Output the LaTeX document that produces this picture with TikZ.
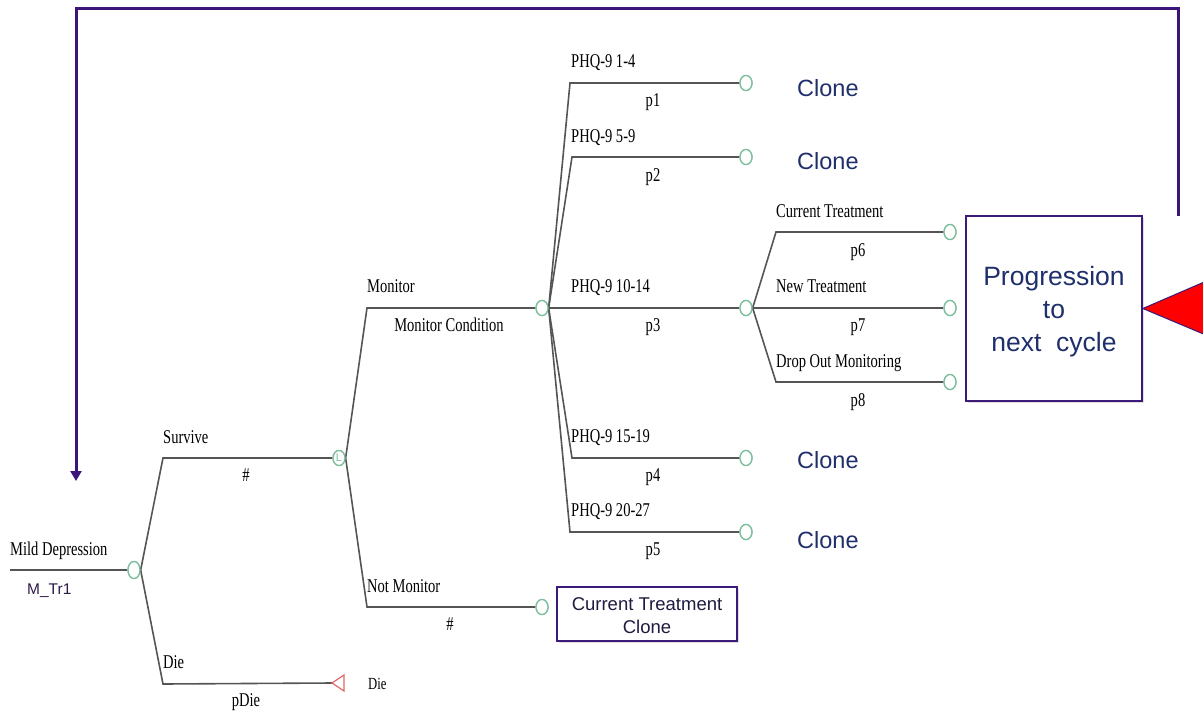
\documentclass[tikz,border=0pt]{standalone}
\usepackage{fontspec}
\setmainfont{Liberation Serif}
\setsansfont{Liberation Sans}
\newfontfamily\treefont[FakeStretch=0.745]{Liberation Serif}
\usetikzlibrary{shapes.geometric,arrows.meta,shadows}

\definecolor{treeline}{HTML}{555555}
\definecolor{chancegreen}{HTML}{7DBE9C}
\definecolor{navytext}{HTML}{1F2F6B}
\definecolor{boxpurple}{HTML}{3C1A7A}
\definecolor{loopcol}{HTML}{3D1578}
\definecolor{termred}{HTML}{E06666}
\definecolor{darktext}{HTML}{1E1B3F}
\definecolor{mtrtext}{HTML}{2E1A47}

\begin{document}
\begin{tikzpicture}[x=1pt,y=-1pt,
  branch/.style={draw=treeline,line width=1.6pt},
  chance/.style={ellipse,draw=chancegreen,line width=1.3pt,minimum width=12pt,minimum height=15pt,inner sep=0pt,fill=white},
  lab/.style={font=\treefont\fontsize{19.5}{20}\selectfont,inner sep=0pt,anchor=base west,text=black},
  prob/.style={font=\treefont\fontsize{19.5}{20}\selectfont,inner sep=0pt,anchor=base,text=black},
  clonelab/.style={font=\sffamily\fontsize{23.5}{25}\selectfont,text=navytext,inner sep=0pt,anchor=west},
  outbox/.style={draw=boxpurple,line width=1.6pt,fill=white,align=center,inner sep=0pt,
    drop shadow={shadow xshift=2pt,shadow yshift=-2pt,opacity=0.25}},
  looparrow/.style={draw=loopcol,line width=3pt,-{Triangle[length=10pt,width=11pt]}}
]
\useasboundingbox (0,0) rectangle (1203,713);

% ---------- nodes ----------
\coordinate (rootin) at (10,570);
\node[chance,minimum height=17pt] (root) at (134,570) {};
\node[chance,font=\sffamily\fontsize{11}{11}\selectfont,text=chancegreen] (mk) at (339,458) {L};
\coordinate (die) at (332,683);
\node[chance] (mon) at (542,308) {};
\node[chance] (notmon) at (542,607) {};
\node[chance] (q1) at (746,83) {};
\node[chance] (q2) at (746,157) {};
\node[chance] (q3) at (746,308) {};
\node[chance] (q4) at (746,458) {};
\node[chance] (q5) at (746,532) {};
\node[chance] (t1) at (950,232) {};
\node[chance] (t2) at (950,308) {};
\node[chance] (t3) at (950,382) {};

% ---------- branches ----------
\draw[branch] (rootin) -- (root.west);
\draw[branch] (root.east) -- (163,458) -- (mk.west);
\draw[branch] (root.east) -- (163,684) -- (die);
\draw[termred,line width=1.2pt] (die) -- (344,675) -- (344,691) -- cycle;

\draw[branch] (mk.east) -- (367,308) -- (mon.west);
\draw[branch] (mk.east) -- (367,607) -- (notmon.west);

\draw[branch] (mon.east) -- (570,83) -- (q1.west);
\draw[branch] (mon.east) -- (572,157) -- (q2.west);
\draw[branch] (mon.east) -- (q3.west);
\draw[branch] (mon.east) -- (572,458) -- (q4.west);
\draw[branch] (mon.east) -- (570,532) -- (q5.west);

\draw[branch] (q3.east) -- (776,232) -- (t1.west);
\draw[branch] (q3.east) -- (t2.west);
\draw[branch] (q3.east) -- (776,382) -- (t3.west);

% redraw nodes on top of lines
\node[chance,minimum height=17pt] at (root) {};
\node[chance,font=\sffamily\fontsize{11}{11}\selectfont,text=chancegreen] at (mk) {L};
\foreach \n in {mon,notmon,q1,q2,q3,q4,q5,t1,t2,t3} \node[chance] at (\n) {};

% ---------- labels ----------
\node[lab] (l0) at (10,555) {Mild Depression};
\node[font=\sffamily\fontsize{15.5}{16}\selectfont,text=mtrtext,inner sep=0pt,anchor=base west] (l0b) at (27,594) {M\_Tr1};
\node[lab] (l1) at (163,443) {Survive};
\node[prob] (l1b) at (246,481) {\#};
\node[lab] (l2) at (163,668) {Die};
\node[prob] (l2b) at (246,706) {pDie};
\node[font=\treefont\fontsize{17}{17}\selectfont,inner sep=0pt,anchor=base west] (l2c) at (368,689) {Die};

\node[lab] (l3) at (367,292) {Monitor};
\node[prob] (l3b) at (449,331) {Monitor Condition};
\node[lab] (l4) at (367,592) {Not Monitor};
\node[prob] (l4b) at (450,630) {\#};

\node[lab] (lq1) at (571,67) {PHQ-9 1-4};
\node[prob] (lq1b) at (653,106) {p1};
\node[lab] (lq2) at (571,142) {PHQ-9 5-9};
\node[prob] (lq2b) at (653,181) {p2};
\node[lab] (lq3) at (571,292) {PHQ-9 10-14};
\node[prob] (lq3b) at (653,331) {p3};
\node[lab] (lq4) at (571,442) {PHQ-9 15-19};
\node[prob] (lq4b) at (653,481) {p4};
\node[lab] (lq5) at (571,516) {PHQ-9 20-27};
\node[prob] (lq5b) at (653,555) {p5};

\node[lab] (lt1) at (776,217) {Current Treatment};
\node[prob] (lt1b) at (858,256) {p6};
\node[lab] (lt2) at (776,292) {New Treatment};
\node[prob] (lt2b) at (858,331) {p7};
\node[lab] (lt3) at (776,367) {Drop Out Monitoring};
\node[prob] (lt3b) at (858,406) {p8};

\node[clonelab] (c1) at (797,88) {Clone};
\node[clonelab] (c2) at (797,161) {Clone};
\node[clonelab] (c4) at (797,460) {Clone};
\node[clonelab] (c5) at (797,540) {Clone};

% ---------- boxes ----------
\node[outbox,minimum width=180pt,minimum height=54pt,
  font=\sffamily\fontsize{18.5}{23}\selectfont,text=darktext] (ctc) at (647,614) {\rule{0pt}{17pt}Current Treatment\\Clone};
\node[outbox,minimum width=176pt,minimum height=185pt,
  font=\sffamily\fontsize{26.5}{33}\selectfont,text=navytext] (prog) at (1054,308.5) {\rule{0pt}{25pt}Progression\\to\\next\ \ cycle};

% ---------- red pointer ----------
\begin{scope}
  \clip (0,0) rectangle (1203,713);
  \filldraw[fill=red,draw=boxpurple,line width=1pt] (prog.east) -- (1232,270) -- (1232,346) -- cycle;
\end{scope}

% ---------- feedback loop ----------
\coordinate (loopS) at (1178,216);
\coordinate (loopE) at (76,481);
\draw[looparrow] (loopS) -- (1178,8) -- (76,8) -- (loopE);

\end{tikzpicture}
\end{document}
